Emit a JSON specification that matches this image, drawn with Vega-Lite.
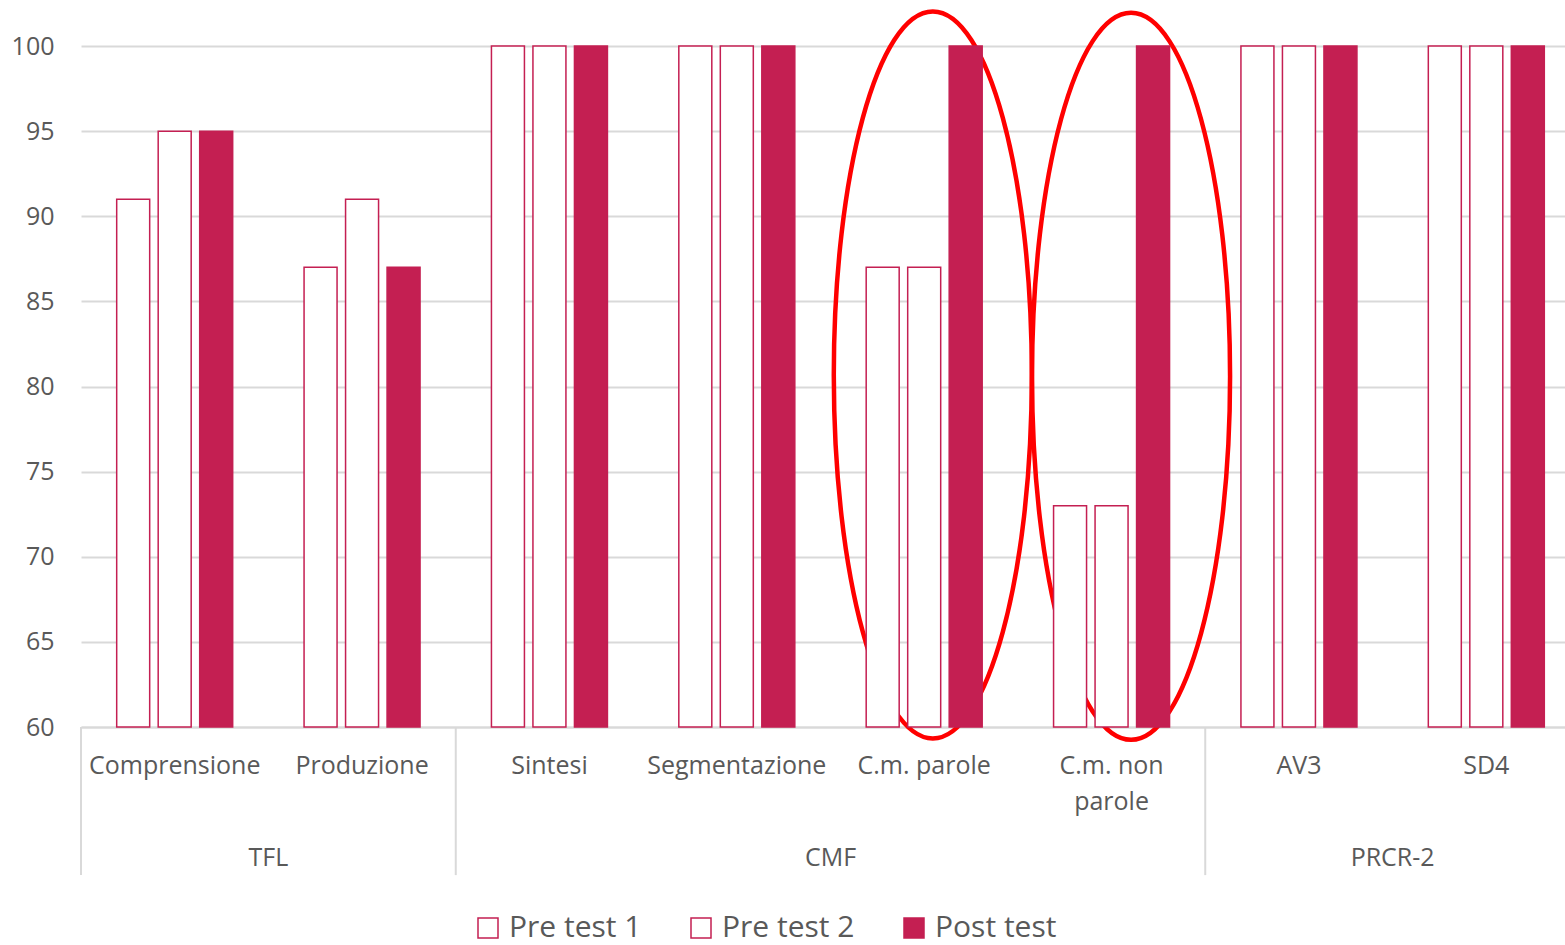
{
  "$schema": "https://vega.github.io/schema/vega-lite/v6.json",
  "autosize": {"type": "none"},
  "padding": {"left": 81, "top": 46, "right": -15, "bottom": 218},
  "width": 1499,
  "height": 681,
  "background": "white",
  "config": {
    "font": "Open Sans",
    "view": {"stroke": null},
    "axis": {"labelColor": "#595959", "labelFont": "Open Sans"}
  },
  "datasets": {
    "scores": [
      {"cat": "Comprensione", "series": "Pre test 1", "value": 91},
      {"cat": "Comprensione", "series": "Pre test 2", "value": 95},
      {"cat": "Comprensione", "series": "Post test", "value": 95},
      {"cat": "Produzione", "series": "Pre test 1", "value": 87},
      {"cat": "Produzione", "series": "Pre test 2", "value": 91},
      {"cat": "Produzione", "series": "Post test", "value": 87},
      {"cat": "Sintesi", "series": "Pre test 1", "value": 100},
      {"cat": "Sintesi", "series": "Pre test 2", "value": 100},
      {"cat": "Sintesi", "series": "Post test", "value": 100},
      {"cat": "Segmentazione", "series": "Pre test 1", "value": 100},
      {"cat": "Segmentazione", "series": "Pre test 2", "value": 100},
      {"cat": "Segmentazione", "series": "Post test", "value": 100},
      {"cat": "C.m. parole", "series": "Pre test 1", "value": 87},
      {"cat": "C.m. parole", "series": "Pre test 2", "value": 87},
      {"cat": "C.m. parole", "series": "Post test", "value": 100},
      {"cat": "C.m. non parole", "series": "Pre test 1", "value": 73},
      {"cat": "C.m. non parole", "series": "Pre test 2", "value": 73},
      {"cat": "C.m. non parole", "series": "Post test", "value": 100},
      {"cat": "AV3", "series": "Pre test 1", "value": 100},
      {"cat": "AV3", "series": "Pre test 2", "value": 100},
      {"cat": "AV3", "series": "Post test", "value": 100},
      {"cat": "SD4", "series": "Pre test 1", "value": 100},
      {"cat": "SD4", "series": "Pre test 2", "value": 100},
      {"cat": "SD4", "series": "Post test", "value": 100}
    ],
    "groups": [
      {"cat": "Comprensione", "label": "TFL", "ypos": 52.28},
      {"cat": "Segmentazione", "label": "CMF", "ypos": 52.28},
      {"cat": "AV3", "label": "PRCR-2", "ypos": 52.28}
    ],
    "separators": [
      {"cat": "Comprensione", "top": 60, "bottom": 51.3},
      {"cat": "Sintesi", "top": 60, "bottom": 51.3},
      {"cat": "AV3", "top": 60, "bottom": 51.3}
    ],
    "ellipse1": [{"cat": "C.m. parole", "yc": 80.68}],
    "ellipse2": [{"cat": "C.m. non parole", "yc": 80.6}]
  },
  "encoding": {
    "x": {
      "field": "cat",
      "type": "nominal",
      "scale": {
        "domain": ["Comprensione", "Produzione", "Sintesi", "Segmentazione", "C.m. parole", "C.m. non parole", "AV3", "SD4"],
        "paddingInner": 0,
        "paddingOuter": 0
      },
      "axis": {
        "title": null,
        "labelAngle": 0,
        "labelFontSize": 25,
        "labelPadding": 26,
        "labelLineHeight": 36,
        "labelBaseline": "top",
        "labelExpr": "datum.label == 'C.m. non parole' ? ['C.m. non', 'parole'] : datum.label",
        "ticks": false,
        "domainColor": "#D9D9D9",
        "domainWidth": 2,
        "grid": false
      }
    }
  },
  "layer": [
    {
      "data": {"name": "ellipse1"},
      "mark": {"type": "point", "shape": "M0,-1C0.1504,-1 0.2724,-0.5523 0.2724,0C0.2724,0.5523 0.1504,1 0,1C-0.1504,1 -0.2724,0.5523 -0.2724,0C-0.2724,-0.5523 -0.1504,-1 0,-1Z", "size": 528529, "filled": false, "stroke": "#FF0000", "strokeWidth": 4.5, "opacity": 1},
      "encoding": {
        "x": {"field": "cat", "type": "nominal", "bandPosition": 0.546},
        "y": {"field": "yc", "type": "quantitative"}
      }
    },
    {
      "data": {"name": "ellipse2"},
      "mark": {"type": "point", "shape": "M0,-1C0.1504,-1 0.2724,-0.5523 0.2724,0C0.2724,0.5523 0.1504,1 0,1C-0.1504,1 -0.2724,0.5523 -0.2724,0C-0.2724,-0.5523 -0.1504,-1 0,-1Z", "size": 528529, "filled": false, "stroke": "#FF0000", "strokeWidth": 4.5, "opacity": 1},
      "encoding": {
        "x": {"field": "cat", "type": "nominal", "bandPosition": 0.604},
        "y": {"field": "yc", "type": "quantitative"}
      }
    },
    {
      "data": {"name": "scores"},
      "mark": {"type": "bar", "stroke": "#C41F52", "strokeWidth": 1.5},
      "encoding": {
        "xOffset": {
          "field": "series",
          "type": "nominal",
          "sort": ["Pre test 1", "Pre test 2", "Post test"],
          "scale": {"paddingInner": 0.205, "paddingOuter": 0.86}
        },
        "y": {
          "field": "value",
          "type": "quantitative",
          "scale": {"domain": [60, 100], "zero": false, "nice": false},
          "axis": {
            "title": null,
            "values": [60, 65, 70, 75, 80, 85, 90, 95, 100],
            "labelFontSize": 25,
            "labelPadding": 27,
            "ticks": false,
            "domain": false,
            "grid": true,
            "gridColor": "#D9D9D9",
            "gridWidth": 2
          }
        },
        "y2": {"datum": 60},
        "fill": {
          "field": "series",
          "type": "nominal",
          "sort": ["Pre test 1", "Pre test 2", "Post test"],
          "scale": {"domain": ["Pre test 1", "Pre test 2", "Post test"], "range": ["#FFFFFF", "#FFFFFF", "#C41F52"]},
          "legend": {
            "title": null,
            "orient": "none",
            "direction": "horizontal",
            "legendX": 392,
            "legendY": 867,
            "symbolType": "square",
            "symbolSize": 400,
            "symbolStrokeColor": "#C41F52",
            "symbolStrokeWidth": 1.5,
            "labelFontSize": 30,
            "labelColor": "#595959",
            "labelFont": "Open Sans",
            "labelOffset": 6,
            "columnPadding": 44,
            "symbolOpacity": 1
          }
        }
      }
    },
    {
      "data": {"name": "separators"},
      "mark": {"type": "rule", "color": "#D9D9D9", "strokeWidth": 2},
      "encoding": {
        "x": {"field": "cat", "type": "nominal", "bandPosition": 0},
        "y": {"field": "top", "type": "quantitative"},
        "y2": {"field": "bottom"}
      }
    },
    {
      "data": {"name": "groups"},
      "mark": {"type": "text", "fontSize": 25, "color": "#595959", "baseline": "middle", "align": "center", "font": "Open Sans"},
      "encoding": {
        "x": {"field": "cat", "type": "nominal", "bandPosition": 1},
        "y": {"field": "ypos", "type": "quantitative"},
        "text": {"field": "label"}
      }
    }
  ]
}
